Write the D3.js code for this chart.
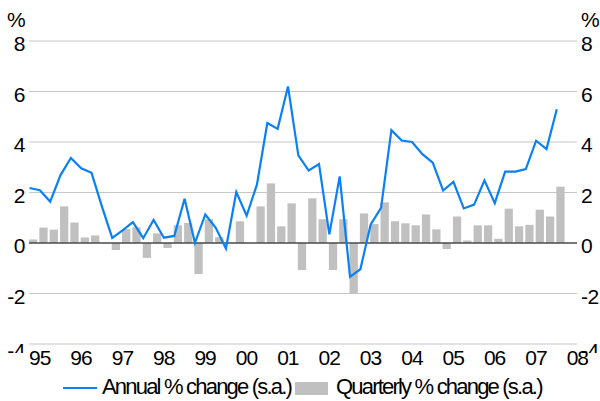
<!DOCTYPE html>
<html>
<head>
<meta charset="utf-8">
<script src="https://cdn.jsdelivr.net/npm/d3@7"></script>
<style>
  body { margin: 0; background: #fff; }
  text { font-family: "Liberation Sans", Arial, sans-serif; fill: #000; }
</style>
</head>
<body>
<script>
/* Datos: trimestres 1995 Q1 - 2007 Q4 */
const years = ["95", "96", "97", "98", "99", "00", "01", "02", "03", "04", "05", "06", "07", "08"];

const annual = [
    2.18, 2.09, 1.64, 2.69,
    3.37, 2.96, 2.78, 1.45,
    0.20, 0.50, 0.83, 0.19,
    0.91, 0.21, 0.28, 1.75,
    0.00, 1.13, 0.61, -0.22,
    2.02, 1.08, 2.32, 4.75,
    4.52, 6.20, 3.47, 2.87,
    3.13, 0.34, 2.64, -1.34,
    -1.04, 0.74, 1.39, 4.47,
    4.06, 4.00, 3.52, 3.18,
    2.08, 2.42, 1.37, 1.52,
    2.48, 1.58, 2.83, 2.83,
    2.93, 4.05, 3.72, 5.30
];

const quarterly = [
    0.14, 0.61, 0.53, 1.45,
    0.81, 0.22, 0.30, 0.00,
    -0.28, 0.55, 0.62, -0.59,
    0.38, -0.20, 0.70, 0.79,
    -1.23, 0.94, 0.23, 0.00,
    0.86, 0.00, 1.45, 2.36,
    0.66, 1.57, -1.07, 1.77,
    0.94, -1.07, 0.94, -2.00,
    1.17, 0.75, 1.61, 0.86,
    0.78, 0.70, 1.13, 0.54,
    -0.24, 1.05, 0.10, 0.70,
    0.70, 0.17, 1.36, 0.66,
    0.72, 1.32, 1.05, 2.23
];

const yTicks = [-4, -2, 0, 2, 4, 6, 8];

let width = 600;
let height = 401;
let margin = { top: 41, bottom: 57, left: 29, right: 23 };

/* Escalas: una banda por trimestre, hasta 2008 Q1 */
let nQuarters = (years.length - 1) * 4 + 1;

let x = d3.scaleBand()
    .domain(d3.range(nQuarters))
    .range([margin.left, width - margin.right])
    .paddingInner(0.2)
    .paddingOuter(0.1)
    .align(0);

let y = d3.scaleLinear()
    .domain([-4, 8])
    .range([height - margin.bottom, margin.top]);

let svg = d3.select("body").append("svg")
    .attr("width", width)
    .attr("height", height);

svg.append("clipPath").attr("id", "ylab")
    .append("rect").attr("x", 0).attr("y", 0).attr("width", width).attr("height", 353);

/* Rejilla */
svg.append("g")
    .selectAll("line")
    .data(yTicks.filter(d => d !== 0))
    .join("line")
    .attr("x1", margin.left)
    .attr("x2", width - margin.right)
    .attr("y1", d => y(d))
    .attr("y2", d => y(d))
    .attr("stroke", "#c6c6c6")
    .attr("stroke-width", 1);

/* Barras trimestrales */
svg.append("g")
    .selectAll("rect")
    .data(quarterly)
    .join("rect")
    .attr("x", (d, i) => x(i))
    .attr("y", d => y(Math.max(0, d)))
    .attr("width", x.bandwidth())
    .attr("height", d => Math.abs(y(d) - y(0)))
    .attr("fill", "#c0c0c0");

/* Linea de cero */
svg.append("line")
    .attr("x1", margin.left)
    .attr("x2", width - margin.right)
    .attr("y1", y(0))
    .attr("y2", y(0))
    .attr("stroke", "#4a4a4a")
    .attr("stroke-width", 1.5);

/* Linea anual */
let line = d3.line()
    .x((d, i) => x(i) + 0.5)
    .y(d => y(d));

svg.append("path")
    .datum(annual)
    .attr("d", line)
    .attr("fill", "none")
    .attr("stroke", "#0a80f5")
    .attr("stroke-width", 2.2)
    .attr("stroke-linejoin", "miter");

/* Etiquetas eje Y, izquierda y derecha */
let yLabels = svg.append("g")
    .attr("clip-path", "url(#ylab)")
    .style("font-size", "21px")
    .style("letter-spacing", "-0.5px");

yLabels.selectAll("text.left")
    .data(yTicks)
    .join("text")
    .attr("class", "left")
    .attr("x", 25)
    .attr("y", d => y(d) + (d === -4 ? 14 : 10))
    .attr("text-anchor", "end")
    .text(d => d);

yLabels.selectAll("text.right")
    .data(yTicks)
    .join("text")
    .attr("class", "right")
    .attr("x", 581)
    .attr("y", d => y(d) + (d === -4 ? 14 : 10))
    .attr("text-anchor", "start")
    .text(d => d);

svg.append("text")
    .attr("x", 7).attr("y", 27)
    .style("font-size", "21px")
    .text("%");

svg.append("text")
    .attr("x", 581).attr("y", 27)
    .style("font-size", "21px")
    .text("%");

/* Etiquetas eje X: al inicio de cada año */
svg.append("g")
    .selectAll("text")
    .data(years)
    .join("text")
    .attr("x", (d, i) => x(i * 4))
    .attr("y", 365)
    .style("font-size", "21px")
    .style("letter-spacing", "-1px")
    .text(d => d);

/* Leyenda */
let legend = svg.append("g")
    .style("font-size", "22px")
    .style("letter-spacing", "-1.8px");

legend.append("line")
    .attr("x1", 63).attr("x2", 97)
    .attr("y1", 388).attr("y2", 388)
    .attr("stroke", "#0a80f5")
    .attr("stroke-width", 2.2);

legend.append("text")
    .attr("x", 102).attr("y", 394)
    .text("Annual % change (s.a.)");

legend.append("rect")
    .attr("x", 295).attr("y", 382)
    .attr("width", 33).attr("height", 13)
    .attr("fill", "#c0c0c0");

legend.append("text")
    .attr("x", 336).attr("y", 394)
    .text("Quarterly % change (s.a.)");
</script>
</body>
</html>
